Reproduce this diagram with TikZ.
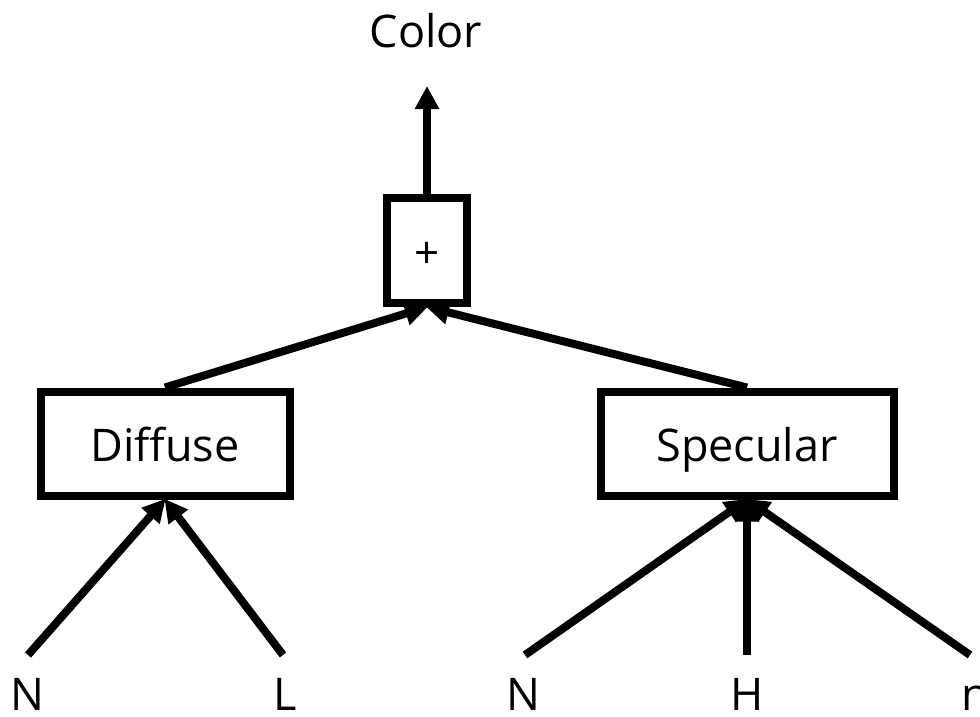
\documentclass[tikz,border=0pt]{standalone}
\usepackage{fontspec}
\setmainfont{Open Sans}
\usetikzlibrary{arrows.meta}
\begin{document}
\begin{tikzpicture}[x=1pt, y=-1pt,
  opbox/.style={draw, line width=8pt, inner sep=0pt,
                font=\fontsize{45}{52}\selectfont,
                text height=44pt, text depth=9pt},
  lbl/.style={inner sep=0pt, anchor=base, font=\fontsize{45}{52}\selectfont},
  arr/.style={line width=8pt, -{Triangle[length=23pt, width=23pt]}, shorten >=-1pt}]
  \useasboundingbox (0,0) rectangle (980,716);

  % operator boxes
  \node[opbox, minimum width=80pt, minimum height=105pt,
        font=\fontsize{44}{50}\selectfont, text height=37pt, text depth=2pt] (plus) at (427,250.5) {+};
  \node[opbox, minimum width=249pt, minimum height=104pt] (diffuse) at (165,443.5) {Diffuse};
  \node[opbox, minimum width=293pt, minimum height=104pt] (specular) at (747,443.5) {Specular};

  % output
  \node[lbl] (color) at (426,47) {Color};
  \coordinate (out) at (427,87);

  % input labels and the ends of their wires
  \node[lbl] (n1) at (27,710) {N};
  \node[lbl] (l1) at (285,710) {L};
  \node[lbl] (n2) at (523,710) {N};
  \node[lbl] (h2) at (747,710) {H};
  \node[lbl] (m2) at (975,710) {n};
  \coordinate (n1w) at (28,655);
  \coordinate (l1w) at (283,655);
  \coordinate (n2w) at (525,655);
  \coordinate (h2w) at (747,655);
  \coordinate (m2w) at (970,655);

  % connectors
  \draw[arr] (plus.north) -- (out);
  \draw[arr] (diffuse.north) -- (plus.south);
  \draw[arr] (specular.north) -- (plus.south);
  \draw[arr] (n1w) -- (diffuse.south);
  \draw[arr] (l1w) -- (diffuse.south);
  \draw[arr] (n2w) -- (specular.south);
  \draw[arr] (h2w) -- (specular.south);
  \draw[arr] (m2w) -- (specular.south);
\end{tikzpicture}
\end{document}
